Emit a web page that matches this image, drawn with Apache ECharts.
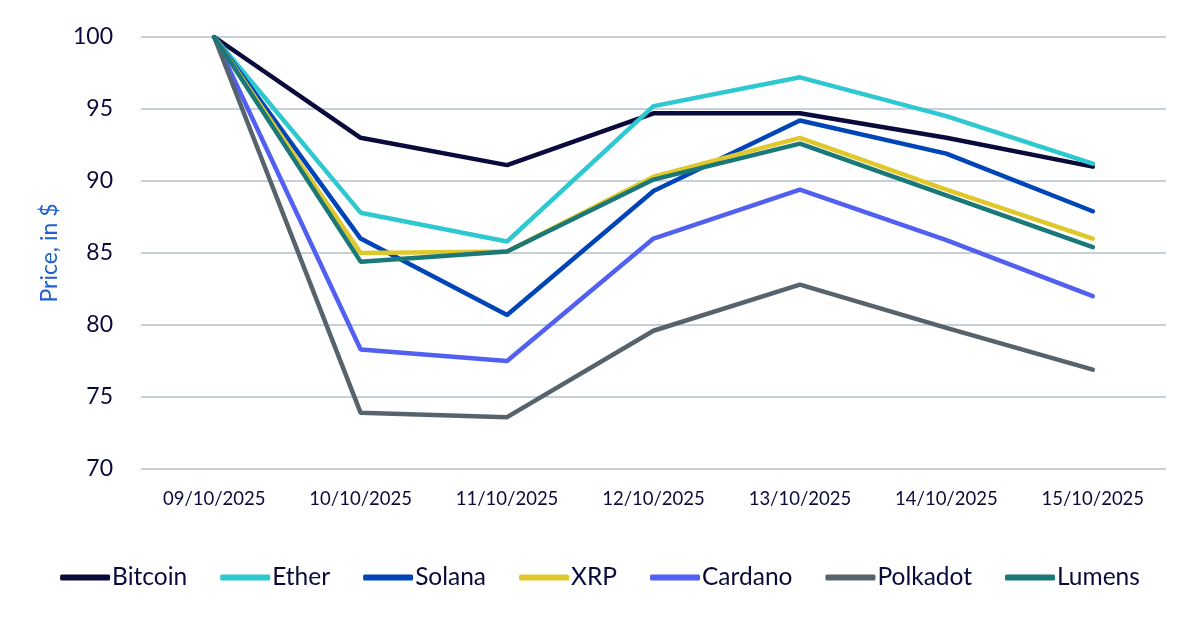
<!DOCTYPE html>
<html>
<head>
<meta charset="utf-8">
<script src="https://cdn.jsdelivr.net/npm/echarts@6/dist/echarts.min.js"></script>
<style>html,body{margin:0;padding:0;background:#fff}#c{width:1200px;height:629px}</style>
</head>
<body>
<div id="c"></div>
<script>
var categories = ['09/10/2025','10/10/2025','11/10/2025','12/10/2025','13/10/2025','14/10/2025','15/10/2025'];
var bitcoin  = [100, 93.0, 91.1, 94.7, 94.7, 93.0, 91.0];
var ether    = [100, 87.8, 85.8, 95.2, 97.2, 94.5, 91.2];
var solana   = [100, 86.0, 80.7, 89.3, 94.2, 91.9, 87.9];
var xrp      = [100, 85.0, 85.1, 90.3, 93.0, 89.4, 86.0];
var cardano  = [100, 78.3, 77.5, 86.0, 89.4, 85.9, 82.0];
var polkadot = [100, 73.9, 73.6, 79.6, 82.8, 79.8, 76.9];
var lumens   = [100, 84.4, 85.1, 90.1, 92.6, 89.0, 85.4];
var yTicks = [70, 75, 80, 85, 90, 95, 100];

var names = ['Bitcoin','Ether','Solana','XRP','Cardano','Polkadot','Lumens'];
var colors = ['#0b0a3c','#2ec8d0','#0045b8','#e0c82c','#5260f2','#56636d','#1a7878'];
var datas = [bitcoin, ether, solana, xrp, cardano, polkadot, lumens];
var txt = '#0b0a3c';
var font = 'Lato';

var series = names.map(function(n, i){
  return {
    name: n, type: 'line', data: datas[i], showSymbol: false, symbol: 'none',
    lineStyle: { width: 4.5, color: colors[i], cap: 'round' },
    itemStyle: { color: colors[i] },
    z: 2 + i
  };
});

var chart = echarts.init(document.getElementById('c'));
chart.setOption({
  animation: false,
  color: colors,
  textStyle: { fontFamily: font, color: txt },
  grid: { left: 141, right: 34, top: 37, bottom: 160, containLabel: false },
  xAxis: {
    type: 'category', data: categories, boundaryGap: true,
    axisLine: { show: false }, axisTick: { show: false },
    axisLabel: { color: txt, fontSize: 18.5, fontFamily: font, margin: 21 }
  },
  yAxis: {
    type: 'value', min: 70, max: 100, interval: 5,
    name: 'Price, in $', nameLocation: 'middle', nameGap: 80,
    nameTextStyle: { color: '#1f5fcf', fontSize: 23, fontFamily: font },
    axisLine: { show: false }, axisTick: { show: false },
    axisLabel: { color: txt, fontSize: 23, fontFamily: font, margin: 28,
      formatter: function(v){ return yTicks.indexOf(v) >= 0 ? String(v) : ''; } },
    splitLine: { lineStyle: { color: '#b4c0cc', width: 1.5 } }
  },
  legend: {
    bottom: 34, left: 'center', icon: 'roundRect', itemWidth: 50, itemHeight: 6, itemGap: 33,
    textStyle: { color: txt, fontSize: 24.5, fontFamily: font, padding: [0,0,0,-3] },
    data: names
  },
  series: series
});
</script>
</body>
</html>
